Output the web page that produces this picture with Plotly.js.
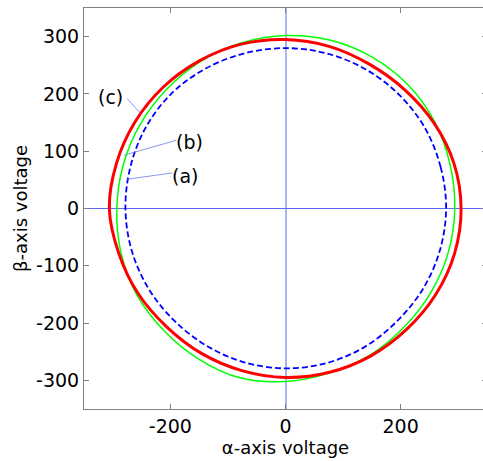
<!DOCTYPE html>
<html>
<head>
<meta charset="utf-8">
<script src="https://cdn.plot.ly/plotly-3.0.1.min.js"></script>
<style>
html, body { margin: 0; padding: 0; overflow: hidden; background: #fff; }
#chart { width: 490px; height: 461px; }
</style>
</head>
<body>
<div id="chart"></div>
<script>
// (a) blue dashed trajectory
var aX = [279, 269.5, 242.5, 198, 140, 72.5, 0, -72.5, -140.5, -199.4, -243.3, -269.5, -278, -267.6, -239, -194.5, -138, -71.9, 0, 72.2, 139, 195.2, 239.9, 268.5, 279];
var aY = [0, 72.2, 140, 198, 242.5, 270.5, 280, 270.5, 243.3, 199.4, 140.5, 72.2, 0, -71.7, -138, -194.5, -239, -268.5, -279, -269.5, -240.7, -195.2, -138.5, -71.9, 0];
// (b) green trajectory
var bX = [294, 285.9, 259.8, 214.3, 152, 78.7, 0, -77.4, -148, -207.2, -252.9, -282, -293, -285.9, -258.9, -212.1, -151.5, -79.2, 0, 76.9, 147.5, 206.5, 252.9, 283, 294];
var bY = [0, 76.6, 150, 214.3, 263.3, 293.6, 302, 288.8, 256.3, 207.2, 146, 75.6, 0, -76.6, -149.5, -212.1, -262.4, -295.6, -302, -286.9, -255.5, -206.5, -146, -75.8, 0];
// (c) red trajectory
var cX = [305, 292.7, 258.1, 207.2, 145.5, 75.8, 0, -76.9, -149, -212.1, -261.5, -293.6, -306, -289.8, -256.3, -206.5, -146, -75.8, 0, 76.6, 148.5, 210.7, 260.7, 293.6, 305];
var cY = [0, 78.4, 149, 207.2, 252, 283, 295, 286.9, 258.1, 212.1, 151, 78.7, 0, -77.6, -148, -206.5, -252.9, -283, -295, -285.9, -257.2, -210.7, -150.5, -78.7, 0];

var xTicks = [-200, 0, 200];
var yTicks = [-300, -200, -100, 0, 100, 200, 300];
var labels = ['(c)', '(b)', '(a)'];

var traces = [
  { x: aX, y: aY, mode: 'lines', line: { color: '#0000ff', width: 1.8, dash: '6px,3px', shape: 'spline', smoothing: 1 }, hoverinfo: 'none' },
  { x: bX, y: bY, mode: 'lines', line: { color: '#00ff00', width: 1.5, shape: 'spline', smoothing: 1 }, hoverinfo: 'none' },
  { x: cX, y: cY, mode: 'lines', line: { color: '#ff0000', width: 3, shape: 'spline', smoothing: 1 }, hoverinfo: 'none' }
];

var fam = 'DejaVu Sans, Arial, sans-serif';
var font = { family: fam, size: 19, color: '#000' };

var layout = {
  width: 490, height: 461,
  margin: { l: 84, r: 3, t: 8, b: 52 },
  paper_bgcolor: '#fff', plot_bgcolor: '#fff',
  showlegend: false,
  font: font,
  xaxis: {
    range: [-350, 350], tickvals: xTicks, ticktext: xTicks.map(String),
    showgrid: false, zeroline: true, zerolinecolor: '#aab2f8', zerolinewidth: 2,
    showline: true, linecolor: '#808080', linewidth: 1, mirror: 'ticks',
    ticks: 'inside', ticklen: 5, tickcolor: '#808080', tickfont: font,
    title: { text: 'α-axis voltage', font: { family: fam, size: 18, color: '#000' }, standoff: 4 }
  },
  yaxis: {
    range: [-350, 350], tickvals: yTicks, ticktext: yTicks.map(String),
    showgrid: false, zeroline: true, zerolinecolor: '#5b6af5', zerolinewidth: 1,
    showline: true, linecolor: '#808080', linewidth: 1, mirror: 'ticks',
    ticks: 'inside', ticklen: 5, tickcolor: '#808080', tickfont: font,
    title: { text: 'β-axis voltage', font: { family: fam, size: 18, color: '#000' }, standoff: 3 }
  },
  shapes: [
    { type: 'line', xref: 'x', yref: 'y', x0: -274.8, y0: 191.9, x1: -251.7, y1: 165.7, line: { color: '#6a7cf0', width: 0.8 } },
    { type: 'line', xref: 'x', yref: 'y', x0: -189.6, y0: 119.1, x1: -280.7, y1: 93, line: { color: '#6a7cf0', width: 0.8 } },
    { type: 'line', xref: 'x', yref: 'y', x0: -196.5, y0: 62.1, x1: -274.8, y1: 51.1, line: { color: '#6a7cf0', width: 0.8 } }
  ],
  annotations: [
    { x: -304.7, y: 194, xref: 'x', yref: 'y', text: labels[0], showarrow: false, font: font },
    { x: -167, y: 116.2, xref: 'x', yref: 'y', text: labels[1], showarrow: false, font: font },
    { x: -175.1, y: 56.3, xref: 'x', yref: 'y', text: labels[2], showarrow: false, font: font }
  ]
};

Plotly.newPlot('chart', traces, layout, { staticPlot: true, displayModeBar: false });
</script>
</body>
</html>
